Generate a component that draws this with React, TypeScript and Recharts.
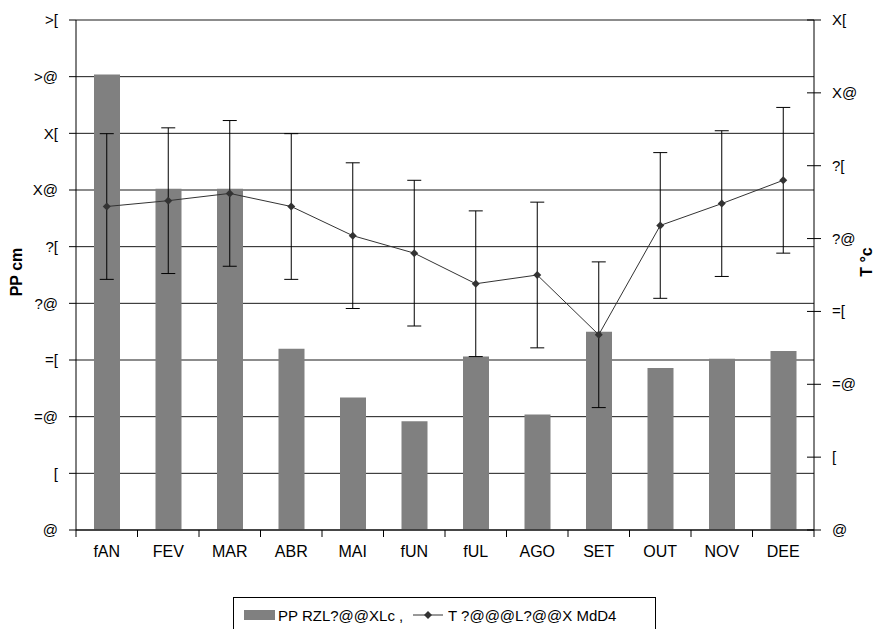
import React from 'react';
import { ComposedChart, Bar, Line, XAxis, YAxis, CartesianGrid, ErrorBar, Label } from 'recharts';

const months = ['fAN', 'FEV', 'MAR', 'ABR', 'MAI', 'fUN', 'fUL', 'AGO', 'SET', 'OUT', 'NOV', 'DEE'];
const precip = [40.2, 30.1, 30.1, 16.0, 11.7, 9.6, 15.3, 10.2, 17.5, 14.3, 15.1, 15.8];
const temp = [22.2, 22.6, 23.1, 22.2, 20.2, 19.0, 16.9, 17.5, 13.4, 20.9, 22.4, 24.0];
const tempErr = [5, 5, 5, 5, 5, 5, 5, 5, 5, 5, 5, 5];

const leftTicks = [0, 5, 10, 15, 20, 25, 30, 35, 40, 45];
const leftTickLabels = ['@', '[', '=@', '=[', '?@', '?[', 'X@', 'X[', '>@', '>['];
const rightTicks = [0, 5, 10, 15, 20, 25, 30, 35];
const rightTickLabels = ['@', '[', '=@', '=[', '?@', '?[', 'X@', 'X['];
const legendLabels = ['PP RZL?@@XLc ,', 'T ?@@@L?@@X MdD4'];
const axisTitles = ['PP cm', 'T °c'];

const data = months.map((m, i) => ({ month: m, pp: precip[i], t: temp[i], err: tempErr[i] }));

const FONT = '"Liberation Sans", Arial, sans-serif';
const BAND = 738 / 12;

const XTick = (props: any) => {
  const { x, y, payload, index } = props;
  return (
    <g>
      <line x1={x - BAND / 2} x2={x - BAND / 2} y1={y} y2={y + 7} stroke="#000" />
      {index === months.length - 1 && (
        <line x1={x + BAND / 2} x2={x + BAND / 2} y1={y} y2={y + 7} stroke="#000" />
      )}
      <text x={x} y={y + 27} textAnchor="middle" fontSize={16} fill="#000" fontFamily={FONT}>
        {payload.value}
      </text>
    </g>
  );
};

const RightTick = (props: any) => {
  const { x, y, payload } = props;
  const idx = rightTicks.indexOf(payload.value);
  return (
    <g>
      <line x1={x - 7} x2={x + 7} y1={y} y2={y} stroke="#000" />
      <text x={x + 18} y={y + 5} textAnchor="start" fontSize={15} fill="#000" fontFamily={FONT}>
        {rightTickLabels[idx]}
      </text>
    </g>
  );
};

const Diamond = (props: any) => {
  const { cx, cy, index } = props;
  if (cx == null || cy == null) return <g key={index} />;
  return (
    <path
      key={index}
      d={`M${cx},${cy - 4}L${cx + 4},${cy}L${cx},${cy + 4}L${cx - 4},${cy}Z`}
      fill="#333"
    />
  );
};

export default function App() {
  return (
    <div style={{ position: 'absolute', left: 0, top: 0, width: 881, height: 629, background: '#fff', fontFamily: FONT, overflow: 'hidden' }}>
      <ComposedChart
        width={881}
        height={629}
        data={data}
        margin={{ top: 20, right: 0, bottom: 69, left: 0 }}
      >
        <CartesianGrid yAxisId="left" vertical={false} stroke="#000" strokeOpacity={0.9} />
        <XAxis
          dataKey="month"
          height={30}
          tickSize={0}
          tickMargin={0}
          tickLine={false}
          axisLine={{ stroke: '#000' }}
          interval={0}
          tick={<XTick />}
        />
        <YAxis
          yAxisId="left"
          orientation="left"
          width={76}
          domain={[0, 45]}
          ticks={leftTicks}
          interval={0}
          tickSize={7}
          tickMargin={11}
          tickLine={{ stroke: '#000' }}
          axisLine={{ stroke: '#000' }}
          tick={{ fill: '#000', fontSize: 15, fontFamily: FONT }}
          tickFormatter={(v: number) => leftTickLabels[leftTicks.indexOf(v)]}
        >
          <Label
            content={() => (
              <text
                x={22}
                y={272}
                transform="rotate(-90 22 272)"
                textAnchor="middle"
                fontSize={16}
                fontWeight="bold"
                fill="#000"
                fontFamily={FONT}
              >
                {axisTitles[0]}
              </text>
            )}
          />
        </YAxis>
        <YAxis
          yAxisId="right"
          orientation="right"
          width={67}
          domain={[0, 35]}
          ticks={rightTicks}
          interval={0}
          tickSize={0}
          tickMargin={0}
          tickLine={false}
          axisLine={{ stroke: '#000' }}
          tick={<RightTick />}
        >
          <Label
            content={() => (
              <text
                x={872}
                y={262}
                transform="rotate(-90 872 262)"
                textAnchor="middle"
                fontSize={16}
                fontWeight="bold"
                fill="#000"
                fontFamily={FONT}
              >
                {axisTitles[1]}
              </text>
            )}
          />
        </YAxis>
        <Bar yAxisId="left" dataKey="pp" fill="#808080" barSize={26} isAnimationActive={false} />
        <Line
          yAxisId="right"
          dataKey="t"
          stroke="#333"
          strokeWidth={1}
          dot={<Diamond />}
          activeDot={false}
          isAnimationActive={false}
        >
          <ErrorBar dataKey="err" direction="y" width={7} stroke="#000" strokeWidth={1} />
        </Line>
      </ComposedChart>
      <div
        style={{
          position: 'absolute',
          left: 233,
          top: 597,
          width: 423,
          height: 40,
          border: '1px solid #000',
          boxSizing: 'border-box',
        }}
      >
        <svg width={423} height={40} style={{ position: 'absolute', left: 0, top: 0 }}>
          <rect x={10} y={12} width={31} height={10} fill="#808080" />
          <text x={44} y={23} fontSize={15} fill="#000" fontFamily={FONT}>
            {legendLabels[0]}
          </text>
          <line x1={179} x2={209} y1={17} y2={17} stroke="#333" />
          <path d="M194,13L198,17L194,21L190,17Z" fill="#333" />
          <text x={214} y={23} fontSize={15} fill="#000" fontFamily={FONT}>
            {legendLabels[1]}
          </text>
        </svg>
      </div>
    </div>
  );
}
